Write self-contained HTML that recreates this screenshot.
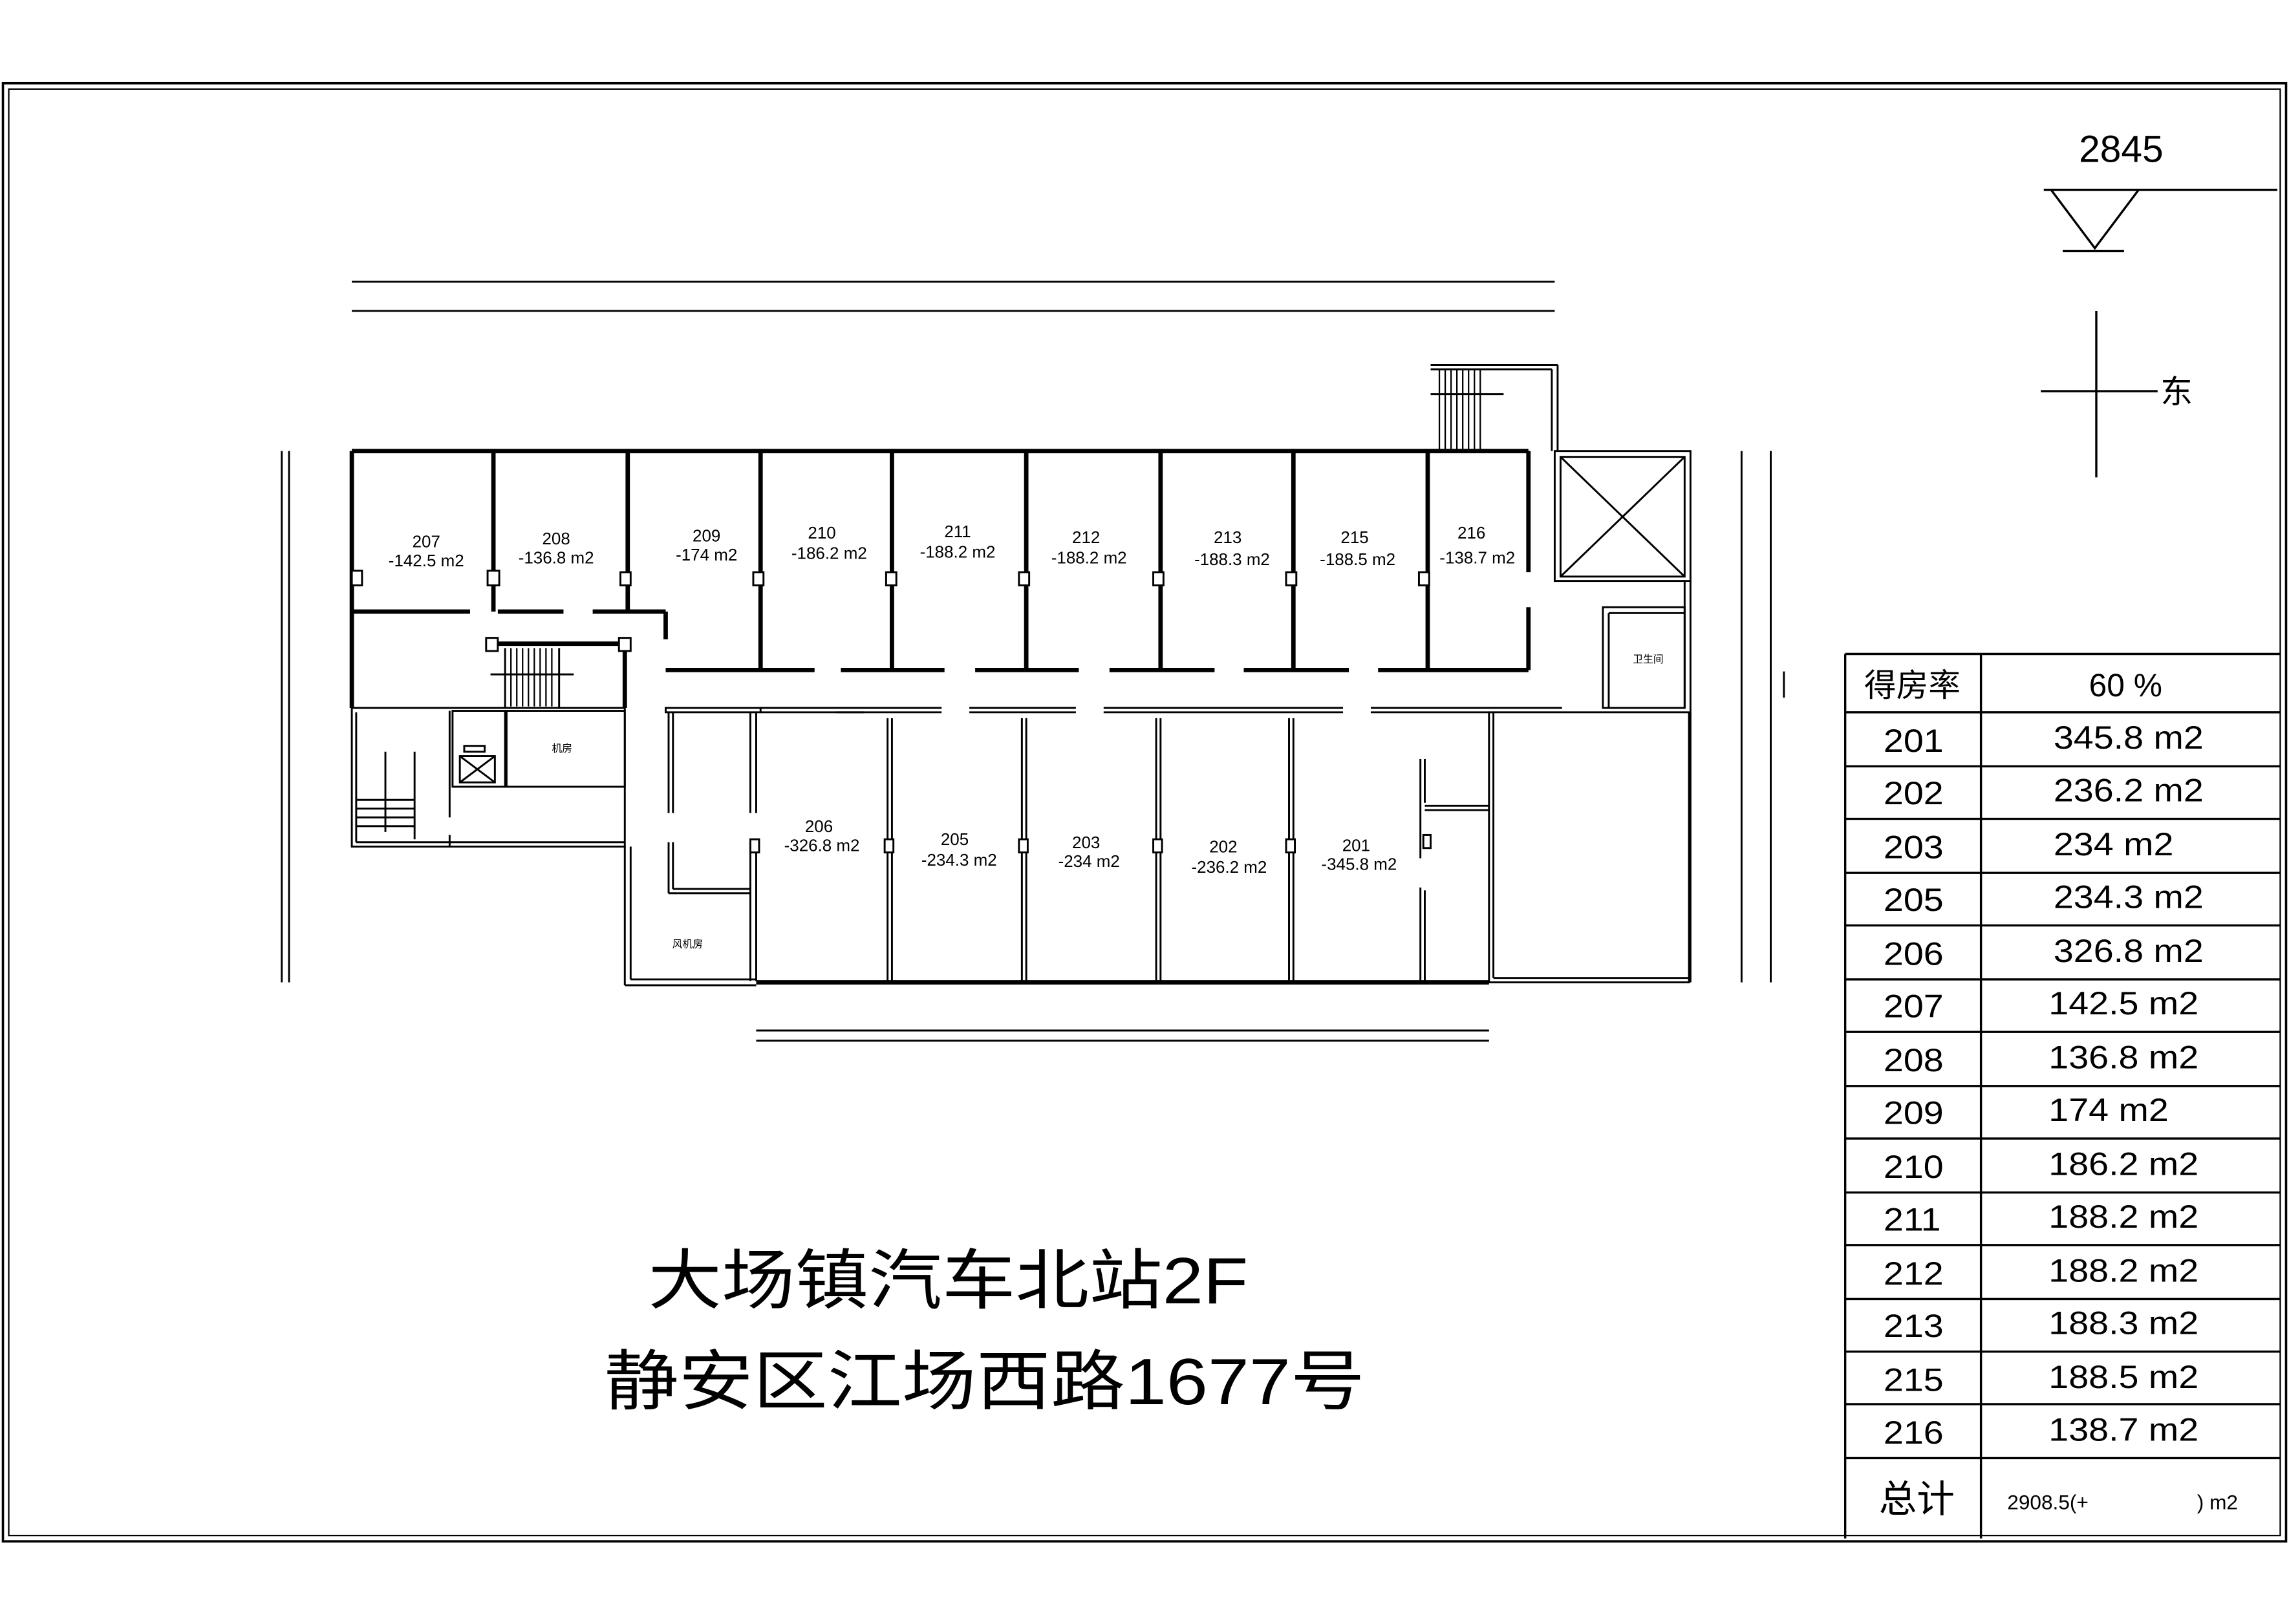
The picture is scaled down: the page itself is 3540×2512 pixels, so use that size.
<!DOCTYPE html>
<html><head><meta charset="utf-8"><style>
html,body{margin:0;padding:0;background:#fff}
svg{display:block}
text{font-family:"Liberation Sans","Noto Sans CJK SC",sans-serif;fill:#000}
</style></head><body>
<svg width="3540" height="2512" viewBox="0 0 1568 1112.6" xmlns="http://www.w3.org/2000/svg">
<rect width="1568" height="1113" fill="#fff"/>
<rect x="2" y="57" width="1564" height="999" fill="none" stroke="#000" stroke-width="1.6"/>
<rect x="6" y="61" width="1556" height="991" fill="none" stroke="#000" stroke-width="1"/>

<text x="1453" y="111" font-family="Liberation Serif" font-size="26" text-anchor="middle">2845</text>
<line x1="1400" y1="130" x2="1560" y2="130" stroke="#000" stroke-width="1.5"/>
<polyline points="1405,130 1435,170 1465,130" fill="none" stroke="#000" stroke-width="1.5"/>
<line x1="1413" y1="172" x2="1455" y2="172" stroke="#000" stroke-width="1.5"/>
<line x1="1436" y1="213" x2="1436" y2="327" stroke="#000" stroke-width="1.5"/>
<line x1="1398" y1="268" x2="1478" y2="268" stroke="#000" stroke-width="1.5"/>
<text x="1480" y="276" font-size="22">东</text>

<g stroke="#000" stroke-width="1.3" fill="none">
<line x1="241" y1="193" x2="1065" y2="193"/>
<line x1="241" y1="213" x2="1065" y2="213"/>
<line x1="518" y1="706" x2="1020" y2="706"/>
<line x1="518" y1="713" x2="1020" y2="713"/>
<line x1="193" y1="309" x2="193" y2="673"/>
<line x1="198" y1="309" x2="198" y2="673"/>
<line x1="1193" y1="309" x2="1193" y2="673"/>
<line x1="1213" y1="309" x2="1213" y2="673"/>
<line x1="1222" y1="460" x2="1222" y2="478"/>
</g>

<g stroke="#000" fill="none">
<g stroke-width="3">
<line x1="241" y1="309" x2="1047" y2="309"/>
<line x1="241" y1="309" x2="241" y2="485"/>
<line x1="338" y1="309" x2="338" y2="419"/>
<line x1="430" y1="309" x2="430" y2="419"/>
<line x1="521" y1="309" x2="521" y2="459"/>
<line x1="611" y1="309" x2="611" y2="459"/>
<line x1="703" y1="309" x2="703" y2="459"/>
<line x1="795" y1="309" x2="795" y2="459"/>
<line x1="886" y1="309" x2="886" y2="459"/>
<line x1="978" y1="309" x2="978" y2="459"/>
<line x1="1047" y1="309" x2="1047" y2="392"/>
<line x1="1047" y1="416" x2="1047" y2="459"/>
<line x1="241" y1="419" x2="322" y2="419"/>
<line x1="341" y1="419" x2="386" y2="419"/>
<line x1="406" y1="419" x2="456" y2="419"/>
<line x1="456" y1="419" x2="456" y2="438"/>
<line x1="334" y1="441" x2="428" y2="441"/>
<line x1="428" y1="441" x2="428" y2="485"/>
<line x1="456" y1="459" x2="558" y2="459"/>
<line x1="576" y1="459" x2="647" y2="459"/>
<line x1="668" y1="459" x2="739" y2="459"/>
<line x1="760" y1="459" x2="832" y2="459"/>
<line x1="852" y1="459" x2="924" y2="459"/>
<line x1="944" y1="459" x2="1047" y2="459"/>
<line x1="518" y1="673" x2="1020" y2="673"/>
</g>
<g stroke-width="1.3">
<rect x="241" y="485" width="187" height="95"/>
<line x1="244" y1="488" x2="244" y2="577"/>
<line x1="244" y1="577" x2="428" y2="577"/>
<line x1="428" y1="580" x2="428" y2="675"/>
<line x1="432" y1="580" x2="432" y2="671"/>
<line x1="428" y1="675" x2="518" y2="675"/>
<line x1="432" y1="671" x2="518" y2="671"/>
<rect x="310" y="487" width="36" height="52"/>
<rect x="347" y="487" width="81" height="52"/>
<rect x="315" y="518" width="24" height="18"/>
<line x1="315" y1="518" x2="339" y2="536"/><line x1="339" y1="518" x2="315" y2="536"/>
<rect x="318" y="511" width="14" height="4"/>
<line x1="308" y1="487" x2="308" y2="560"/>
<line x1="308" y1="572" x2="308" y2="580"/>
<line x1="264" y1="515" x2="264" y2="570"/>
<line x1="284" y1="515" x2="284" y2="575"/>
<line x1="244" y1="548" x2="284" y2="548"/>
<line x1="244" y1="554" x2="284" y2="554"/>
<line x1="244" y1="560" x2="284" y2="560"/>
<line x1="244" y1="566" x2="284" y2="566"/>
<rect x="456" y="485" width="65" height="3"/>
<line x1="458" y1="488" x2="458" y2="557"/>
<line x1="461" y1="488" x2="461" y2="557"/>
<line x1="514" y1="488" x2="514" y2="557"/>
<line x1="518" y1="488" x2="518" y2="557"/>
<line x1="458" y1="577" x2="458" y2="612"/>
<line x1="461" y1="577" x2="461" y2="609"/>
<line x1="461" y1="609" x2="514" y2="609"/>
<line x1="458" y1="612" x2="514" y2="612"/>
<line x1="514" y1="577" x2="514" y2="672"/>
<line x1="518" y1="577" x2="518" y2="672"/>
<line x1="521" y1="485" x2="592" y2="485"/><line x1="521" y1="488" x2="592" y2="488"/>
<line x1="573" y1="485" x2="645" y2="485"/><line x1="573" y1="488" x2="645" y2="488"/>
<line x1="664" y1="485" x2="737" y2="485"/><line x1="664" y1="488" x2="737" y2="488"/>
<line x1="756" y1="485" x2="920" y2="485"/><line x1="756" y1="488" x2="920" y2="488"/>
<line x1="939" y1="485" x2="1070" y2="485"/><line x1="939" y1="488" x2="1020" y2="488"/>
<line x1="608" y1="492" x2="608" y2="673"/><line x1="611" y1="492" x2="611" y2="673"/>
<line x1="700" y1="492" x2="700" y2="673"/><line x1="703" y1="492" x2="703" y2="673"/>
<line x1="792" y1="492" x2="792" y2="673"/><line x1="795" y1="492" x2="795" y2="673"/>
<line x1="883" y1="492" x2="883" y2="673"/><line x1="886" y1="492" x2="886" y2="673"/>
<line x1="973" y1="520" x2="973" y2="588"/><line x1="976" y1="520" x2="976" y2="550"/>
<line x1="973" y1="608" x2="973" y2="673"/><line x1="976" y1="610" x2="976" y2="673"/>
<line x1="976" y1="552" x2="1020" y2="552"/><line x1="976" y1="555" x2="1020" y2="555"/>
<rect x="1020" y="488" width="137" height="185"/>
<line x1="1023" y1="488" x2="1023" y2="670"/>
<line x1="1023" y1="670" x2="1157" y2="670"/>
<rect x="1065" y="309" width="93" height="89"/>
<rect x="1069" y="313" width="85" height="82"/>
<line x1="1069" y1="313" x2="1154" y2="395"/><line x1="1154" y1="313" x2="1069" y2="395"/>
<line x1="1158" y1="398" x2="1158" y2="673"/>
<line x1="1154" y1="398" x2="1154" y2="485"/>
<rect x="1098" y="416" width="56" height="69"/>
<line x1="1102" y1="420" x2="1102" y2="485"/>
<line x1="1102" y1="420" x2="1154" y2="420"/>
<line x1="980" y1="250" x2="1067" y2="250"/><line x1="980" y1="253" x2="1063" y2="253"/>
<line x1="1067" y1="250" x2="1067" y2="309"/><line x1="1063" y1="253" x2="1063" y2="309"/>
<line x1="980" y1="270" x2="1030" y2="270"/>
<line x1="346" y1="444" x2="346" y2="485"/>
<line x1="383" y1="444" x2="383" y2="485"/>
<line x1="336" y1="462" x2="393" y2="462"/>
</g>
<g stroke-width="1">
<line x1="986" y1="253" x2="986" y2="308"/><line x1="990" y1="253" x2="990" y2="308"/>
<line x1="994" y1="253" x2="994" y2="308"/><line x1="998" y1="253" x2="998" y2="308"/>
<line x1="1002" y1="253" x2="1002" y2="308"/><line x1="1006" y1="253" x2="1006" y2="308"/>
<line x1="1010" y1="253" x2="1010" y2="308"/><line x1="1014" y1="253" x2="1014" y2="308"/>
<line x1="350" y1="444" x2="350" y2="484"/><line x1="354" y1="444" x2="354" y2="484"/>
<line x1="358" y1="444" x2="358" y2="484"/><line x1="362" y1="444" x2="362" y2="484"/>
<line x1="366" y1="444" x2="366" y2="484"/><line x1="370" y1="444" x2="370" y2="484"/>
<line x1="374" y1="444" x2="374" y2="484"/><line x1="378" y1="444" x2="378" y2="484"/>
</g>
<g stroke-width="1.3" fill="#fff">
<rect x="241" y="391" width="7" height="10"/><rect x="334" y="391" width="8" height="10"/>
<rect x="425" y="392" width="7" height="9"/><rect x="516" y="392" width="7" height="9"/>
<rect x="607" y="392" width="7" height="9"/><rect x="698" y="392" width="7" height="9"/>
<rect x="790" y="392" width="7" height="9"/><rect x="881" y="392" width="7" height="9"/>
<rect x="972" y="392" width="7" height="9"/>
<rect x="333" y="437" width="8" height="9"/><rect x="424" y="437" width="8" height="9"/>
<rect x="514" y="575" width="6" height="9"/><rect x="606" y="575" width="6" height="9"/>
<rect x="698" y="575" width="6" height="9"/><rect x="790" y="575" width="6" height="9"/>
<rect x="881" y="575" width="6" height="9"/>
<rect x="975" y="572" width="5" height="9"/>
</g>
</g>

<g font-size="11.5" text-anchor="middle">
<text x="292" y="375">207</text><text x="292" y="388">-142.5 m2</text>
<text x="381" y="373">208</text><text x="381" y="386">-136.8 m2</text>
<text x="484" y="371">209</text><text x="484" y="384">-174 m2</text>
<text x="563" y="369">210</text><text x="568" y="383">-186.2 m2</text>
<text x="656" y="368">211</text><text x="656" y="382">-188.2 m2</text>
<text x="744" y="372">212</text><text x="746" y="386">-188.2 m2</text>
<text x="841" y="372">213</text><text x="844" y="387">-188.3 m2</text>
<text x="928" y="372">215</text><text x="930" y="387">-188.5 m2</text>
<text x="1008" y="369">216</text><text x="1012" y="386">-138.7 m2</text>
<text x="561" y="570">206</text><text x="563" y="583">-326.8 m2</text>
<text x="654" y="579">205</text><text x="657" y="593">-234.3 m2</text>
<text x="744" y="581">203</text><text x="746" y="594">-234 m2</text>
<text x="838" y="584">202</text><text x="842" y="598">-236.2 m2</text>
<text x="929" y="583">201</text><text x="931" y="596">-345.8 m2</text>
</g>
<g font-size="7" text-anchor="middle">
<text x="385" y="515">机房</text>
<text x="471" y="649">风机房</text>
<text x="1129" y="454">卫生间</text>
</g>

<text x="444" y="893" font-size="45" textLength="411" lengthAdjust="spacingAndGlyphs">大场镇汽车北站2F</text>
<text x="414" y="962" font-size="45" textLength="521" lengthAdjust="spacingAndGlyphs">静安区江场西路1677号</text>

<g stroke="#000" stroke-width="1.5" fill="none">
<line x1="1264" y1="448" x2="1264" y2="1054"/>
<line x1="1357" y1="448" x2="1357" y2="1054"/>
<line x1="1264" y1="448" x2="1562" y2="448"/>
<line x1="1264" y1="488" x2="1562" y2="488"/>
<line x1="1264" y1="525" x2="1562" y2="525"/>
<line x1="1264" y1="561" x2="1562" y2="561"/>
<line x1="1264" y1="598" x2="1562" y2="598"/>
<line x1="1264" y1="634" x2="1562" y2="634"/>
<line x1="1264" y1="671" x2="1562" y2="671"/>
<line x1="1264" y1="707" x2="1562" y2="707"/>
<line x1="1264" y1="744" x2="1562" y2="744"/>
<line x1="1264" y1="780" x2="1562" y2="780"/>
<line x1="1264" y1="817" x2="1562" y2="817"/>
<line x1="1264" y1="853" x2="1562" y2="853"/>
<line x1="1264" y1="890" x2="1562" y2="890"/>
<line x1="1264" y1="926" x2="1562" y2="926"/>
<line x1="1264" y1="962" x2="1562" y2="962"/>
<line x1="1264" y1="999" x2="1562" y2="999"/>
</g>
<g font-size="22">
<text x="1277" y="477">得房率</text>
<text x="1431" y="477">60 %</text>
<g transform="scale(1.12,1)">
<text x="1152" y="515">201</text><text x="1256" y="513">345.8 m2</text>
<text x="1152" y="551">202</text><text x="1256" y="549">236.2 m2</text>
<text x="1152" y="588">203</text><text x="1256" y="586">234 m2</text>
<text x="1152" y="624">205</text><text x="1256" y="622">234.3 m2</text>
<text x="1152" y="661">206</text><text x="1256" y="659">326.8 m2</text>
<text x="1152" y="697">207</text><text x="1253" y="695">142.5 m2</text>
<text x="1152" y="734">208</text><text x="1253" y="732">136.8 m2</text>
<text x="1152" y="770">209</text><text x="1253" y="768">174 m2</text>
<text x="1152" y="807">210</text><text x="1253" y="805">186.2 m2</text>
<text x="1152" y="843">211</text><text x="1253" y="841">188.2 m2</text>
<text x="1152" y="880">212</text><text x="1253" y="878">188.2 m2</text>
<text x="1152" y="916">213</text><text x="1253" y="914">188.3 m2</text>
<text x="1152" y="953">215</text><text x="1253" y="951">188.5 m2</text>
<text x="1152" y="989">216</text><text x="1253" y="987">138.7 m2</text>
</g>
<text x="1287" y="1036" font-size="26">总计</text>
<text x="1375" y="1034" font-size="14">2908.5(+</text>
<text x="1505" y="1034" font-size="14">)  m2</text>
</g>
</svg>
</body></html>
